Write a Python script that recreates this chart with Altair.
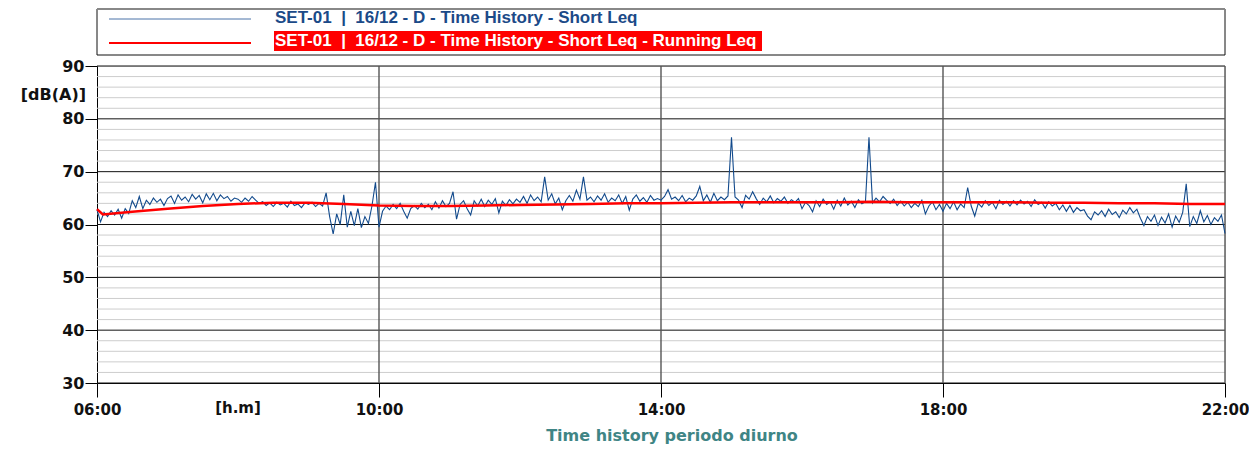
import altair as alt
import pandas as pd

# ---- data (Short Leq every 3 minutes, from 06:00 to 22:00) ----
short_leq_rows = [
    [62.8, 60.5, 62.3, 61.5, 62.6, 61.8, 62.9, 61.2, 63.0, 62.1, 64.5, 63.2, 65.3, 63.0, 64.6, 63.8, 65.0, 64.2, 64.8, 63.6],  # 06
    [64.9, 65.4, 64.0, 65.6, 64.6, 65.2, 64.3, 65.7, 64.8, 65.5, 64.1, 65.8, 64.7, 65.9, 64.5, 65.6, 64.9, 65.3, 64.4, 65.0],  # 07
    [64.8, 64.2, 65.0, 64.4, 65.3, 64.6, 64.0, 64.3, 63.6, 64.1, 63.4, 64.2, 63.7, 64.0, 63.3, 64.4, 63.6, 63.9, 63.2, 64.1],  # 08
    [63.8, 64.2, 63.4, 64.0, 63.5, 66.0, 61.5, 58.2, 62.0, 60.0, 65.6, 59.5, 62.5, 59.8, 63.0, 59.4, 61.5, 60.2, 63.5, 68.0],  # 09
    [59.5, 62.5, 63.5, 62.8, 63.8, 63.0, 64.0, 62.5, 61.2, 63.0, 63.6, 62.9, 64.0, 63.2, 63.8, 62.8, 64.3, 63.1, 64.5, 63.4],  # 10
    [64.0, 66.2, 61.0, 63.8, 64.5, 63.0, 61.8, 64.5, 63.5, 64.8, 63.4, 64.6, 63.8, 64.9, 62.2, 64.4, 63.6, 64.7, 63.9, 64.8],  # 11
    [64.2, 65.3, 64.0, 65.6, 64.5, 65.2, 64.3, 69.0, 64.6, 65.8, 63.9, 65.0, 62.8, 64.5, 65.5, 64.4, 66.5, 64.8, 69.0, 64.6],  # 12
    [65.2, 64.3, 65.4, 64.6, 65.8, 64.2, 65.0, 64.5, 65.6, 64.0, 65.3, 62.7, 64.8, 65.6, 64.4, 65.1, 64.2, 65.5, 64.6, 64.9],  # 13
    [64.6, 65.3, 66.6, 64.8, 65.2, 64.5, 65.5, 64.3, 65.0, 64.6, 65.4, 67.2, 64.5, 65.6, 64.2, 65.9, 64.5, 65.2, 64.7, 65.4],  # 14
    [76.5, 65.2, 64.6, 63.2, 65.5, 64.8, 66.2, 64.9, 63.8, 65.0, 64.3, 65.4, 64.1, 64.9, 64.4, 65.2, 64.0, 64.7, 64.2, 64.9],  # 15
    [63.0, 64.2, 63.6, 62.4, 64.5, 63.4, 64.8, 63.8, 64.3, 62.9, 64.6, 63.5, 65.0, 63.7, 64.4, 63.2, 64.7, 63.9, 64.3, 76.5],  # 16
    [64.1, 65.0, 64.3, 65.3, 64.6, 64.0, 64.8, 63.6, 64.4, 63.5, 64.2, 63.2, 64.0, 63.4, 64.6, 62.0, 63.5, 64.3, 62.8, 63.8],  # 17
    [62.5, 64.0, 63.0, 64.3, 62.8, 63.9, 63.2, 67.0, 63.5, 61.6, 64.0, 63.3, 64.5, 63.6, 64.2, 63.0, 64.6, 63.8, 64.4, 63.5],  # 18
    [64.5, 63.7, 64.6, 63.9, 64.4, 63.4, 64.7, 63.8, 64.2, 63.1, 64.3, 63.5, 64.0, 62.8, 63.7, 62.5, 63.6, 62.3, 63.2, 62.6],  # 19
    [62.8, 61.6, 60.9, 62.4, 61.8, 62.6, 61.5, 62.9, 61.9, 62.4, 61.3, 62.7, 62.0, 63.2, 62.2, 62.9, 61.2, 59.8, 61.5, 60.6],  # 20
    [61.8, 59.8, 61.4, 60.3, 62.0, 59.5, 61.6, 60.4, 62.3, 67.7, 59.6, 61.5, 60.2, 62.6, 60.5, 61.7, 60.0, 61.3, 60.6, 61.8],  # 21
]
short_leq_last = 58.3  # 22:00
step_min = 3

# Running Leq read at a few times (minutes after 06:00)
running_min = [0, 5, 30, 60, 90, 120, 150, 180, 210, 240, 270, 300, 330, 360, 390, 420, 450,
               480, 510, 540, 570, 600, 630, 660, 690, 720, 750, 780, 810, 840, 870, 900, 930, 960]
running_leq = [62.9, 61.9, 62.4, 63.0, 63.5, 63.9, 64.1, 64.1, 63.9, 63.6, 63.5, 63.5, 63.6, 63.7, 63.8, 63.9, 64.0,
               64.0, 64.1, 64.2, 64.2, 64.2, 64.2, 64.3, 64.2, 64.2, 64.2, 64.2, 64.1, 64.1, 64.0, 64.0, 63.9, 63.9]

tick_minutes = [0, 240, 480, 720, 960]
tick_labels = ["06:00", "10:00", "14:00", "18:00", "22:00"]
y_ticks = [30, 40, 50, 60, 70, 80, 90]
minor_levels = [v for v in range(32, 90, 2) if v % 10 != 0]
vgrid_minutes = [240, 480, 720, 960]

legend_blue = "SET-01\u00a0\u00a0|\u00a0\u00a016/12 - D - Time History - Short Leq"
legend_red = "SET-01\u00a0\u00a0|\u00a0\u00a016/12 - D - Time History - Short Leq - Running Leq"
x_unit = "[h.m]"
y_unit = "[dB(A)]"
bottom_title = "Time history periodo diurno"

# ---- tables ----
vals = [v for row in short_leq_rows for v in row] + [short_leq_last]
short_df = pd.DataFrame({"m": [i * step_min for i in range(len(vals))], "v": vals})
run_df = pd.DataFrame({"m": running_min, "v": running_leq})

W, H = 1128, 317
FONT = "DejaVu Sans"
LFONT = "Liberation Sans"

label_expr = "[" + ",".join("'%s'" % t for t in tick_labels) + "][datum.value / 240]"
xscale = alt.Scale(domain=[0, 960], nice=False, zero=False)
yscale = alt.Scale(domain=[30, 90], nice=False, zero=False)
AX = alt.Axis(values=tick_minutes, labelExpr=label_expr, tickSize=14, tickColor="#000", tickWidth=1,
              domainColor="#000", domainWidth=1, grid=False, labelFont=FONT, labelFontWeight="bold",
              labelFontSize=15, labelColor="#111", labelPadding=5, labelFlush=False, labelBound=False,
              labelOverlap=False, title=None)
AY = alt.Axis(values=y_ticks, tickSize=12, tickColor="#000", tickWidth=1, domainColor="#000", domainWidth=1,
              grid=False, labelFont=FONT, labelFontWeight="bold", labelFontSize=16, labelColor="#111",
              labelPadding=1, title=None)

X = lambda f: alt.X(f, scale=xscale, axis=AX, title=None)
Y = lambda f: alt.Y(f, scale=yscale, axis=AY, title=None)

one = alt.Data(values=[{}])

minor = alt.Chart(pd.DataFrame({"v": minor_levels})).mark_rule(color="#cdcdcd", strokeWidth=1).encode(y=Y("v:Q"))
major = alt.Chart(pd.DataFrame({"v": y_ticks})).mark_rule(color="#111", strokeWidth=1).encode(y=Y("v:Q"))
vgrid = alt.Chart(pd.DataFrame({"m": vgrid_minutes})).mark_rule(color="#555", strokeWidth=1.4).encode(x=X("m:Q"))

blue = alt.Chart(short_df).mark_line(color="#124a8c", strokeWidth=1.1).encode(x=X("m:Q"), y=Y("v:Q"))
red = alt.Chart(run_df).mark_line(color="#ff0000", strokeWidth=2.5).encode(x=X("m:Q"), y=Y("v:Q"))

# legend box
box = alt.Chart(one).mark_rect(fill="white", stroke="#111", strokeWidth=1).encode(
    x=alt.value(0), x2=alt.value(W), y=alt.value(-57), y2=alt.value(-11))
box_top = alt.Chart(one).mark_rule(color="#888", strokeWidth=2).encode(
    x=alt.value(0), x2=alt.value(W), y=alt.value(-57))
leg_blue_line = alt.Chart(one).mark_rule(color="#4a72a8", strokeWidth=1).encode(
    x=alt.value(12), x2=alt.value(154), y=alt.value(-47))
leg_red_line = alt.Chart(one).mark_rule(color="#ff0000", strokeWidth=2).encode(
    x=alt.value(12), x2=alt.value(154), y=alt.value(-23))
leg_red_bg = alt.Chart(one).mark_rect(fill="#ff0000").encode(
    x=alt.value(177), x2=alt.value(665), y=alt.value(-35), y2=alt.value(-15))
leg_blue_txt = alt.Chart(one).mark_text(align="left", baseline="middle", font=LFONT, fontWeight="bold",
                                        fontSize=17, color="#1b4a88").encode(
    x=alt.value(178), y=alt.value(-48), text=alt.value(legend_blue))
leg_red_txt = alt.Chart(one).mark_text(align="left", baseline="middle", font=LFONT, fontWeight="bold",
                                       fontSize=17, color="white").encode(
    x=alt.value(178), y=alt.value(-25), text=alt.value(legend_red))

yunit = alt.Chart(one).mark_text(align="right", baseline="middle", font=FONT, fontWeight="bold",
                                 fontSize=16, color="#111").encode(
    x=alt.value(-11), y=alt.value(29), text=alt.value(y_unit))
xunit = alt.Chart(pd.DataFrame({"m": [120], "t": [x_unit]})).mark_text(
    align="center", baseline="middle", font=FONT, fontWeight="bold", fontSize=15, color="#111").encode(
    x=X("m:Q"), y=alt.value(342), text="t:N")
btitle = alt.Chart(one).mark_text(align="center", baseline="middle", font=FONT, fontWeight="bold",
                                  fontSize=16, color="#3f8585").encode(
    x=alt.value(575), y=alt.value(370), text=alt.value(bottom_title))

chart = alt.layer(
    minor, major, vgrid, blue, red,
    box, box_top, leg_blue_line, leg_red_line, leg_red_bg, leg_blue_txt, leg_red_txt,
    yunit, xunit, btitle,
).properties(
    width=W, height=H,
    autosize=alt.AutoSizeParams(type="none"),
    padding={"left": 89, "top": 58, "right": 24, "bottom": 61},
).configure_view(stroke=None).configure(background="white")

chart.save("out.html", embed_options={"renderer": "svg", "actions": False})
